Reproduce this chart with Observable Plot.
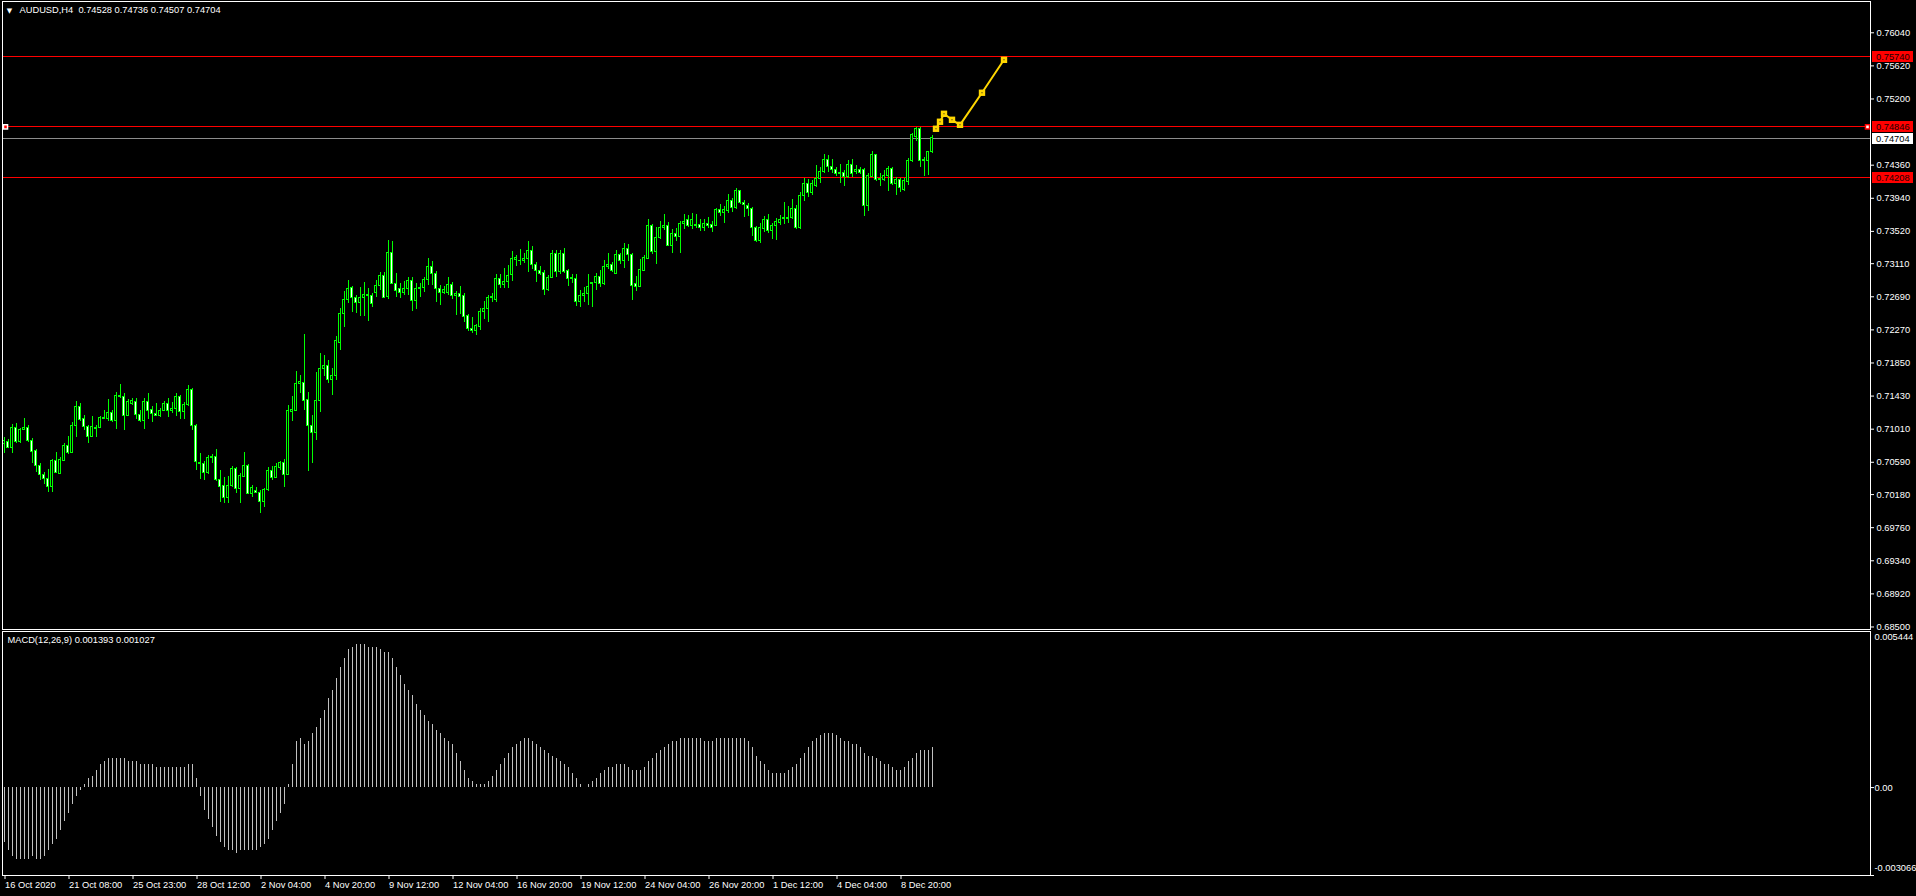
<!DOCTYPE html>
<html><head><meta charset="utf-8">
<script src="https://cdn.jsdelivr.net/npm/d3@7"></script>
<script src="https://cdn.jsdelivr.net/npm/@observablehq/plot@0.6"></script>
<style>
html,body{margin:0;padding:0;background:#000;width:1916px;height:896px;overflow:hidden}
#wrap{position:relative;width:1916px;height:896px;background:#000}
#wrap svg{position:absolute;left:0;display:block;overflow:visible}
</style></head><body><div id="wrap"></div>
<script>
const symbolName = "AUDUSD,H4";
const openP = [
0.70823,0.70845,0.70773,0.71022,0.70845,0.71001,0.71022,0.70866,0.70739,0.70544,
0.70430,0.70379,0.70274,0.70612,0.70443,0.70612,0.70802,0.70705,0.71056,0.71297,
0.71141,0.71035,0.70908,0.71027,0.71027,0.71153,0.71137,0.71217,0.71111,0.71437,
0.71416,0.71179,0.71331,0.71352,0.71192,0.71120,0.71352,0.71255,0.71204,0.71179,
0.71246,0.71331,0.71238,0.71268,0.71416,0.71225,0.71318,0.71509,0.71056,0.70587,
0.70570,0.70451,0.70646,0.70663,0.70367,0.70295,0.70138,0.70295,0.70506,0.70252,
0.70400,0.70544,0.70189,0.70223,0.70206,0.70083,0.70240,0.70485,0.70392,0.70519,
0.70587,0.70430,0.71225,0.71246,0.71585,0.71598,0.71382,0.71056,0.70959,0.71365,
0.71776,0.71814,0.71636,0.71683,0.72101,0.72474,0.72651,0.72799,0.72677,0.72609,
0.72677,0.72710,0.72702,0.72736,0.72829,0.72956,0.72685,0.73248,0.72854,0.72791,
0.72736,0.72791,0.72884,0.72634,0.72787,0.72799,0.72905,0.73074,0.72981,0.72791,
0.72744,0.72744,0.72842,0.72698,0.72727,0.72694,0.72440,0.72287,0.72262,0.72304,
0.72495,0.72537,0.72672,0.72651,0.72918,0.72842,0.72880,0.72969,0.73159,0.73150,
0.73142,0.73172,0.73277,0.73095,0.73023,0.72990,0.72778,0.72930,0.73227,0.73002,
0.73227,0.73015,0.72926,0.72917,0.72621,0.72706,0.72719,0.72854,0.72862,0.72947,
0.72846,0.73065,0.73087,0.72981,0.73226,0.73142,0.73302,0.73226,0.72846,0.72820,
0.73023,0.73171,0.73582,0.73256,0.73438,0.73569,0.73590,0.73340,0.73488,0.73446,
0.73615,0.73666,0.73586,0.73607,0.73603,0.73560,0.73615,0.73607,0.73594,0.73793,
0.73751,0.73776,0.73911,0.73814,0.74026,0.73882,0.73848,0.73806,0.73565,0.73395,
0.73556,0.73666,0.73522,0.73594,0.73624,0.73675,0.73683,0.73692,0.73806,0.73565,
0.73963,0.74115,0.74005,0.74102,0.74187,0.74271,0.74428,0.74335,0.74301,0.74250,
0.74267,0.74208,0.74356,0.74276,0.74293,0.74293,0.73840,0.74216,0.74483,0.74170,
0.74166,0.74225,0.74314,0.74123,0.74166,0.74051,0.74145,0.74419,0.74716,0.74821,
0.74411,0.74411,0.74528];
const highP = [
0.70908,0.70874,0.71065,0.71077,0.71014,0.71141,0.71056,0.70887,0.70747,0.70570,
0.70464,0.70494,0.70620,0.70718,0.70646,0.70823,0.70917,0.71098,0.71361,0.71331,
0.71183,0.71056,0.71170,0.71056,0.71170,0.71246,0.71382,0.71246,0.71471,0.71576,
0.71458,0.71382,0.71403,0.71395,0.71246,0.71395,0.71466,0.71297,0.71331,0.71276,
0.71365,0.71395,0.71352,0.71458,0.71437,0.71352,0.71560,0.71521,0.71065,0.70697,
0.70604,0.70675,0.70684,0.70747,0.70485,0.70400,0.70409,0.70536,0.70519,0.70443,
0.70718,0.70561,0.70295,0.70274,0.70231,0.70252,0.70519,0.70536,0.70570,0.70604,
0.70620,0.71310,0.71424,0.71741,0.71691,0.72211,0.71479,0.71183,0.71729,0.71966,
0.71945,0.71881,0.71776,0.72186,0.72537,0.72757,0.72897,0.72820,0.72706,0.72804,
0.72875,0.72791,0.72727,0.72897,0.73002,0.72994,0.73404,0.73392,0.72990,0.72854,
0.72884,0.72939,0.72930,0.72854,0.72854,0.72930,0.73180,0.73138,0.73015,0.72833,
0.72820,0.72930,0.72871,0.72757,0.72820,0.72736,0.72461,0.72423,0.72338,0.72537,
0.72630,0.72706,0.72736,0.72973,0.72973,0.73045,0.73083,0.73260,0.73210,0.73286,
0.73243,0.73392,0.73328,0.73129,0.73074,0.73023,0.72960,0.73277,0.73277,0.73277,
0.73298,0.73036,0.72968,0.72972,0.72769,0.72803,0.72972,0.72871,0.72989,0.73023,
0.73150,0.73235,0.73120,0.73277,0.73243,0.73362,0.73353,0.73243,0.72947,0.73159,
0.73214,0.73670,0.73607,0.73565,0.73645,0.73730,0.73637,0.73539,0.73552,0.73645,
0.73734,0.73717,0.73747,0.73734,0.73670,0.73670,0.73692,0.73645,0.73806,0.73861,
0.73835,0.73988,0.73941,0.74068,0.74034,0.73911,0.73869,0.73827,0.73582,0.73615,
0.73708,0.73734,0.73624,0.73679,0.73721,0.73890,0.73835,0.73920,0.73848,0.74018,
0.74187,0.74174,0.74166,0.74356,0.74335,0.74496,0.74479,0.74428,0.74335,0.74369,
0.74293,0.74419,0.74428,0.74356,0.74335,0.74314,0.74259,0.74534,0.74496,0.74250,
0.74293,0.74343,0.74335,0.74208,0.74187,0.74187,0.74441,0.74766,0.74842,0.74834,
0.74462,0.74538,0.74736];
const lowP = [
0.70705,0.70760,0.70697,0.70823,0.70832,0.70993,0.70845,0.70570,0.70464,0.70358,
0.70307,0.70210,0.70210,0.70443,0.70434,0.70604,0.70688,0.70697,0.70908,0.71111,
0.70993,0.70823,0.70900,0.70900,0.71014,0.71128,0.71111,0.71098,0.71005,0.71395,
0.70993,0.71170,0.71310,0.71128,0.71090,0.71005,0.71128,0.71090,0.71170,0.71153,
0.71234,0.71162,0.71204,0.71170,0.71132,0.71128,0.71301,0.70993,0.70485,0.70367,
0.70358,0.70434,0.70570,0.70350,0.70083,0.70062,0.70062,0.70274,0.70197,0.70062,
0.70392,0.70181,0.70147,0.70189,0.69935,0.70020,0.70223,0.70358,0.70379,0.70485,
0.70265,0.70422,0.71111,0.71238,0.71458,0.71246,0.70477,0.70578,0.70866,0.71226,
0.71683,0.71585,0.71437,0.71628,0.72008,0.72304,0.72609,0.72495,0.72482,0.72440,
0.72440,0.72381,0.72558,0.72677,0.72770,0.72668,0.72655,0.72846,0.72685,0.72664,
0.72706,0.72706,0.72507,0.72529,0.72677,0.72749,0.72833,0.72833,0.72622,0.72579,
0.72719,0.72706,0.72655,0.72452,0.72465,0.72359,0.72249,0.72228,0.72199,0.72262,
0.72397,0.72368,0.72622,0.72622,0.72791,0.72791,0.72791,0.72884,0.73074,0.73087,
0.73117,0.73002,0.73032,0.72875,0.72960,0.72706,0.72761,0.72918,0.72939,0.72973,
0.72990,0.72820,0.72862,0.72566,0.72558,0.72621,0.72579,0.72558,0.72769,0.72803,
0.72833,0.73032,0.73002,0.72972,0.73099,0.73044,0.73142,0.72642,0.72761,0.72812,
0.73015,0.73163,0.73226,0.73099,0.73412,0.73531,0.73328,0.73243,0.73395,0.73243,
0.73539,0.73565,0.73548,0.73552,0.73518,0.73518,0.73552,0.73505,0.73582,0.73713,
0.73624,0.73742,0.73763,0.73793,0.73861,0.73692,0.73713,0.73455,0.73383,0.73370,
0.73510,0.73488,0.73412,0.73404,0.73594,0.73607,0.73615,0.73667,0.73540,0.73540,
0.73903,0.73954,0.73975,0.74081,0.74123,0.74250,0.74271,0.74250,0.74216,0.74132,
0.74090,0.74187,0.74208,0.74242,0.74242,0.73709,0.73777,0.74208,0.74157,0.74090,
0.74153,0.74026,0.74102,0.73975,0.74018,0.74026,0.74102,0.74398,0.74665,0.74335,
0.74216,0.74229,0.74507];
const closeP = [
0.70866,0.70773,0.71022,0.70845,0.71001,0.71027,0.70866,0.70718,0.70544,0.70430,
0.70379,0.70274,0.70612,0.70451,0.70620,0.70802,0.70705,0.71056,0.71297,0.71128,
0.71035,0.70908,0.71035,0.71010,0.71153,0.71145,0.71217,0.71111,0.71437,0.71416,
0.71179,0.71352,0.71373,0.71192,0.71111,0.71352,0.71246,0.71204,0.71179,0.71246,
0.71331,0.71246,0.71268,0.71416,0.71225,0.71318,0.71509,0.71048,0.70591,0.70570,
0.70451,0.70646,0.70663,0.70367,0.70282,0.70138,0.70295,0.70506,0.70252,0.70422,
0.70544,0.70189,0.70265,0.70206,0.70083,0.70240,0.70485,0.70392,0.70527,0.70587,
0.70430,0.71246,0.71255,0.71585,0.71610,0.71373,0.71056,0.70959,0.71373,0.71776,
0.71814,0.71636,0.71691,0.72123,0.72474,0.72651,0.72791,0.72677,0.72609,0.72677,
0.72710,0.72702,0.72596,0.72829,0.72956,0.72677,0.73248,0.72854,0.72761,0.72736,
0.72791,0.72884,0.72634,0.72791,0.72804,0.72905,0.73074,0.72981,0.72787,0.72736,
0.72770,0.72842,0.72702,0.72727,0.72685,0.72431,0.72279,0.72254,0.72313,0.72503,
0.72537,0.72677,0.72681,0.72918,0.72842,0.72880,0.72960,0.73172,0.73176,0.73142,
0.73172,0.73277,0.73095,0.73015,0.72981,0.72778,0.72930,0.73227,0.73002,0.73227,
0.73002,0.72917,0.72913,0.72621,0.72706,0.72727,0.72820,0.72871,0.72947,0.72854,
0.73074,0.73087,0.73023,0.73226,0.73142,0.73302,0.73218,0.72833,0.72820,0.73032,
0.73184,0.73582,0.73256,0.73438,0.73565,0.73590,0.73340,0.73488,0.73446,0.73615,
0.73645,0.73594,0.73666,0.73586,0.73560,0.73615,0.73586,0.73560,0.73793,0.73751,
0.73785,0.73911,0.73818,0.74026,0.73878,0.73857,0.73806,0.73560,0.73404,0.73565,
0.73666,0.73522,0.73594,0.73637,0.73666,0.73692,0.73692,0.73806,0.73565,0.73963,
0.74123,0.74005,0.74115,0.74187,0.74271,0.74428,0.74335,0.74301,0.74250,0.74267,
0.74208,0.74356,0.74250,0.74293,0.74267,0.73848,0.74229,0.74483,0.74166,0.74187,
0.74229,0.74314,0.74115,0.74166,0.74073,0.74153,0.74419,0.74749,0.74821,0.74411,
0.74428,0.74525,0.74704];
const macdHist = [
-0.0019,-0.0022,-0.0024,-0.0025,-0.0025,-0.0025,-0.0025,-0.0024,-0.0025,-0.0025,
-0.0024,-0.0022,-0.0020,-0.0018,-0.0015,-0.0012,-0.0009,-0.0006,-0.0003,-0.0001,
0.0001,0.0003,0.0004,0.0006,0.0008,0.0009,0.0010,0.0010,0.0010,0.0010,
0.0010,0.0009,0.0009,0.0009,0.0008,0.0008,0.0008,0.0008,0.0007,0.0007,
0.0007,0.0007,0.0007,0.0007,0.0007,0.0007,0.0008,0.0008,0.0003,-0.0003,
-0.0008,-0.0011,-0.0014,-0.0017,-0.0019,-0.0021,-0.0022,-0.0022,-0.0023,-0.0022,
-0.0022,-0.0022,-0.0022,-0.0022,-0.0021,-0.0020,-0.0018,-0.0015,-0.0012,-0.0009,
-0.0006,0.0001,0.0008,0.0016,0.0017,0.0015,0.0016,0.0019,0.0021,0.0024,
0.0027,0.0031,0.0034,0.0038,0.0042,0.0045,0.0048,0.0049,0.0050,0.0050,
0.0050,0.0049,0.0049,0.0049,0.0048,0.0047,0.0047,0.0045,0.0042,0.0039,
0.0036,0.0034,0.0032,0.0029,0.0027,0.0025,0.0023,0.0022,0.0020,0.0019,
0.0017,0.0016,0.0015,0.0012,0.0009,0.0006,0.0003,0.0002,0.0001,0.0001,
0.0001,0.0002,0.0004,0.0006,0.0008,0.0010,0.0012,0.0014,0.0015,0.0016,
0.0017,0.0017,0.0016,0.0015,0.0014,0.0013,0.0012,0.0011,0.0010,0.0009,
0.0008,0.0007,0.0005,0.0003,0.0001,0.0000,0.0001,0.0002,0.0003,0.0005,
0.0006,0.0007,0.0007,0.0008,0.0008,0.0008,0.0007,0.0006,0.0006,0.0006,
0.0007,0.0009,0.0010,0.0012,0.0013,0.0014,0.0015,0.0016,0.0016,0.0017,
0.0017,0.0017,0.0017,0.0017,0.0017,0.0016,0.0016,0.0016,0.0017,0.0017,
0.0017,0.0017,0.0017,0.0017,0.0017,0.0017,0.0016,0.0014,0.0011,0.0009,
0.0008,0.0006,0.0005,0.0005,0.0005,0.0005,0.0006,0.0007,0.0008,0.0010,
0.0012,0.0014,0.0016,0.0017,0.0018,0.0019,0.0019,0.0019,0.0018,0.0017,
0.0016,0.0016,0.0015,0.0015,0.0014,0.0012,0.0011,0.0011,0.0010,0.0009,
0.0008,0.0008,0.0007,0.0006,0.0006,0.0007,0.0009,0.0010,0.0012,0.0013,
0.0013,0.0013,0.001393];
const macdSignalLast = 0.001027;
const redLevels = [0.75740, 0.74846, 0.74208];
const bidPrice = 0.74704;
const forecastIdx = [233, 234, 235, 237, 239, 244.5, 250];
const forecastPrice = [0.74822, 0.74911, 0.75012, 0.74936, 0.74872, 0.75279, 0.75697];
const priceTicks = [0.76040,0.75620,0.75200,0.74360,0.73940,0.73520,0.73110,0.72690,0.72270,0.71850,0.71430,0.71010,0.70590,0.70180,0.69760,0.69340,0.68920,0.68500];
const timeTickIdx = [0,16,32,48,64,80,96,112,128,144,160,176,192,208,224];
const timeTickLabels = ["16 Oct 2020","21 Oct 08:00","25 Oct 23:00","28 Oct 12:00","2 Nov 04:00","4 Nov 20:00","9 Nov 12:00","12 Nov 04:00","16 Nov 20:00","19 Nov 12:00","24 Nov 04:00","26 Nov 20:00","1 Dec 12:00","4 Dec 04:00","8 Dec 20:00"];
const macdRange = [-0.003066, 0.005444];
const priceRange = [0.68468, 0.76437];

const FONT = "'Liberation Sans', Arial, sans-serif";
const FS = 9.3;
const GREEN = "#00ff00";
const candles = openP.map((o, i) => ({i, o, h: highP[i], l: lowP[i], c: closeP[i]}));
const forecast = forecastIdx.map((x, k) => ({x, p: forecastPrice[k]}));
const macd = macdHist.map((v, i) => ({i, v}));
const last = candles[candles.length - 1];
const xDomain = [-0.375, 466.625];
const f5 = d => d.toFixed(5);

const wrap = document.getElementById("wrap");

const main = Plot.plot({
  width: 1916, height: 630,
  marginLeft: 2, marginRight: 46, marginTop: 1, marginBottom: 1,
  style: {background: "transparent", fontFamily: FONT, fontSize: FS + "px", color: "white", overflow: "visible"},
  x: {domain: xDomain, axis: null},
  y: {domain: priceRange},
  marks: [
    Plot.ruleY([bidPrice], {stroke: "#8c8c8c", shapeRendering: "crispEdges"}),
    Plot.ruleY(redLevels, {stroke: "#ff0000", shapeRendering: "crispEdges"}),
    Plot.ruleX(candles, {x: "i", y1: "l", y2: "h", stroke: GREEN, shapeRendering: "crispEdges"}),
    Plot.rect(candles, {x1: d => d.i - 0.25, x2: d => d.i + 0.25, y1: "o", y2: "c",
      fill: d => d.c >= d.o ? "#000000" : "#ffffff", stroke: GREEN, shapeRendering: "crispEdges"}),
    Plot.line(forecast, {x: "x", y: "p", stroke: "#ffd700", strokeWidth: 2}),
    Plot.dot(forecast, {x: "x", y: "p", symbol: "square", r: 3.6, fill: "#ffd700", stroke: "none"}),
    Plot.dot(forecast, {x: "x", y: "p", symbol: "square", r: 0.6, fill: "#222"}),
    Plot.dot([redLevels[1]], {y: d => d, frameAnchor: "right", dx: -3, symbol: "square", r: 2.3, fill: "white", stroke: "#ff0000"}),
    Plot.dot([redLevels[1]], {y: d => d, frameAnchor: "left", dx: 3, symbol: "square", r: 2.3, fill: "#ff0000", stroke: "white"}),
    Plot.frame({stroke: "white", shapeRendering: "crispEdges"}),
    Plot.axisY(priceTicks, {anchor: "right", tickSize: 3, tickPadding: 3, tickFormat: f5, color: "white", textAnchor: "start", label: null, fontSize: FS}),
    Plot.text(["\u25BC"], {frameAnchor: "top-left", dx: 7, dy: 7, fill: "white", fontSize: 7, fontFamily: "DejaVu Sans", textAnchor: "middle"}),
    Plot.text([`${symbolName}\u00A0 ${f5(last.o)} ${f5(last.h)} ${f5(last.l)} ${f5(last.c)}`],
      {frameAnchor: "top-left", dx: 17, dy: 5, lineAnchor: "top", textAnchor: "start", fill: "white", fontSize: FS})
  ]
});
main.style.top = "0px";
wrap.appendChild(main);

// price labels for the horizontal lines, placed with the plot's own y scale
const ys = main.scale("y");
const lg = d3.select(main).append("g").attr("font-family", FONT).attr("font-size", FS).attr("text-anchor", "start");
const labelDefs = redLevels.map(v => ({v, bg: "#ff0000", fg: "#200000"})).concat([{v: bidPrice, bg: "#ffffff", fg: "#000000"}]);
for (const L of labelDefs) {
  const yy = ys.apply(L.v);
  lg.append("rect").attr("x", 1872).attr("y", Math.round(yy) - 5).attr("width", 41).attr("height", 11).attr("fill", L.bg);
  lg.append("text").attr("x", 1876).attr("y", Math.round(yy) + 0.5).attr("dy", "0.35em").attr("fill", L.fg).text(f5(L.v));
}

const sub = Plot.plot({
  width: 1916, height: 267,
  marginLeft: 2, marginRight: 46, marginTop: 2, marginBottom: 21,
  style: {background: "transparent", fontFamily: FONT, fontSize: FS + "px", color: "white", overflow: "visible"},
  x: {domain: xDomain},
  y: {domain: macdRange},
  marks: [
    Plot.ruleX(macd, {x: "i", y1: 0, y2: "v", stroke: "#c0c0c0", shapeRendering: "crispEdges"}),
    Plot.frame({stroke: "white", shapeRendering: "crispEdges"}),
    Plot.axisY([0, macdRange[0]], {anchor: "right", tickSize: 3, tickPadding: 3, text: null, color: "white", label: null}),
    Plot.text([0], {y: d => d, frameAnchor: "right", dx: 4, textAnchor: "start", text: () => "0.00", fill: "white", fontSize: FS}),
    Plot.text([macdRange[1]], {y: d => d, frameAnchor: "right", dx: 4, dy: 6, textAnchor: "start", text: d => d.toFixed(6), fill: "white", fontSize: FS}),
    Plot.text([macdRange[0]], {y: d => d, frameAnchor: "right", dx: 4, dy: -7, textAnchor: "start", text: d => d.toFixed(6), fill: "white", fontSize: FS}),
    Plot.axisX(timeTickIdx, {anchor: "bottom", tickSize: 4, tickPadding: 2, textAnchor: "start", dx: 1,
      tickFormat: d => timeTickLabels[timeTickIdx.indexOf(d)], color: "white", label: null, fontSize: FS}),
    Plot.text([`MACD(12,26,9) ${macdHist[macdHist.length - 1].toFixed(6)} ${macdSignalLast.toFixed(6)}`],
      {frameAnchor: "top-left", dx: 5, dy: 5, lineAnchor: "top", textAnchor: "start", fill: "white", fontSize: FS})
  ]
});
sub.style.top = "629px";
wrap.appendChild(sub);
</script></body></html>
